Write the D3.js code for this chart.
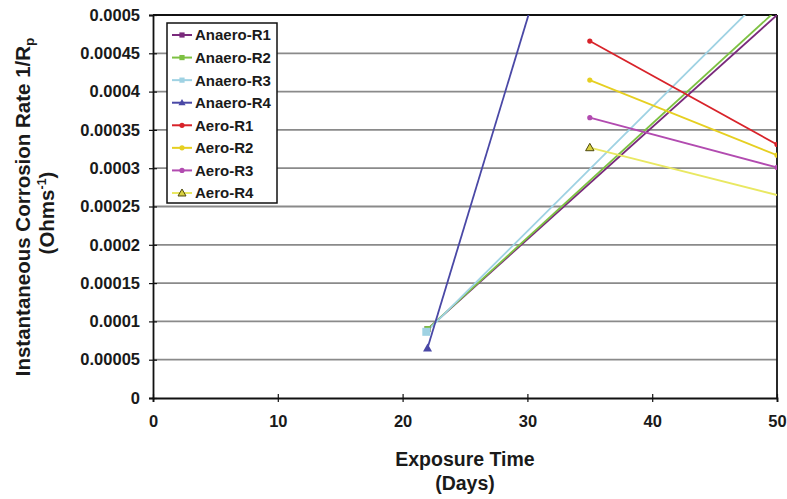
<!DOCTYPE html>
<html><head><meta charset="utf-8">
<script src="https://cdn.jsdelivr.net/npm/d3@7"></script>
<style>body{margin:0;background:#fff}svg{display:block;font-family:"Liberation Sans",Arial,sans-serif}</style>
</head><body><svg id="c" width="787" height="499"></svg>
<script>
const seriesNames = ["Anaero-R1","Anaero-R2","Anaero-R3","Anaero-R4","Aero-R1","Aero-R2","Aero-R3","Aero-R4"];
const seriesColors = ["#7a2a7c","#7dc142","#9fd2e3","#4a48a6","#d8232a","#e6cf21","#b24bb0","#e9e862"];
const seriesMarkers = ["square","square","square","triangle","circle","circle","circle","triangleOutline"];
const anaeroR1 = [[22, 0.00009], [50, 0.0005]];
const anaeroR2 = [[22, 0.00009], [50, 0.000507]];
const anaeroR3 = [[21.9, 0.0000864], [50, 0.000542]];
const anaeroR4 = [[22, 0.0000654], [50, 0.00157]];
const aeroR1 = [[35, 0.000466], [50, 0.000331]];
const aeroR2 = [[35, 0.000415], [50, 0.000317]];
const aeroR3 = [[35, 0.000366], [50, 0.000301]];
const aeroR4 = [[35, 0.000327], [50, 0.000265]];
const seriesData = [anaeroR1, anaeroR2, anaeroR3, anaeroR4, aeroR1, aeroR2, aeroR3, aeroR4];
const xTicks = [0,10,20,30,40,50];
const yTicks = [0,0.00005,0.0001,0.00015,0.0002,0.00025,0.0003,0.00035,0.0004,0.00045,0.0005];
const yTickLabels = ["0","0.00005","0.0001","0.00015","0.0002","0.00025","0.0003","0.00035","0.0004","0.00045","0.0005"];

const L=153, R=777, T=15, B=398;
const svg = d3.select("#c");
const x = d3.scaleLinear().domain([0,50]).range([L,R]);
const y = d3.scaleLinear().domain([0,0.0005]).range([B,T]);

svg.append("defs").append("clipPath").attr("id","clip")
  .append("rect").attr("x",L).attr("y",T).attr("width",R-L).attr("height",B-T);

// gridlines
svg.append("g").selectAll("line").data(yTicks.slice(1,-1)).join("line")
  .attr("x1",L).attr("x2",R).attr("y1",d=>y(d)).attr("y2",d=>y(d))
  .attr("stroke","#8a8a8a").attr("stroke-width",1.8);
// top/right border
svg.append("line").attr("x1",L).attr("x2",R).attr("y1",T).attr("y2",T).attr("stroke","#111").attr("stroke-width",1.8);
svg.append("line").attr("x1",R).attr("x2",R).attr("y1",T).attr("y2",B).attr("stroke","#111").attr("stroke-width",1.8);

// axes
const ya = svg.append("g").attr("transform",`translate(${L},0)`)
  .call(d3.axisLeft(y).tickValues(yTicks).tickFormat((d,i)=>yTickLabels[i]).tickSize(4).tickPadding(9));
const xa = svg.append("g").attr("transform",`translate(0,${B})`)
  .call(d3.axisBottom(x).tickValues(xTicks).tickSize(4).tickPadding(13));
[ya,xa].forEach(a=>{
  a.select(".domain").attr("stroke","#111").attr("stroke-width",1.8);
  a.selectAll(".tick line").attr("stroke","#111").attr("stroke-width",1.2);
  a.selectAll("text").attr("font-size",16.5).attr("font-weight","bold").attr("fill","#1a1a1a")
   .attr("font-family","Liberation Sans, Arial, sans-serif");
});
ya.selectAll(".tick line").attr("x1",4).attr("x2",-4);
xa.selectAll(".tick line").attr("y1",-4).attr("y2",4);

// series
const line = d3.line().x(d=>x(d[0])).y(d=>y(d[1]));
const plot = svg.append("g").attr("clip-path","url(#clip)");
function marker(g, type, color, cx, cy, s){
  if(type==="square") g.append("rect").attr("x",cx-s).attr("y",cy-s).attr("width",2*s).attr("height",2*s).attr("fill",color);
  else if(type==="circle") g.append("circle").attr("cx",cx).attr("cy",cy).attr("r",s).attr("fill",color);
  else if(type==="triangle") g.append("path").attr("d",`M${cx},${cy-s-1}L${cx+s+1},${cy+s}L${cx-s-1},${cy+s}Z`).attr("fill",color);
  else g.append("path").attr("d",`M${cx},${cy-s-1}L${cx+s+1},${cy+s}L${cx-s-1},${cy+s}Z`).attr("fill","#d8d040").attr("stroke","#4f4a10").attr("stroke-width",1);
}
seriesData.forEach((data,i)=>{
  plot.append("path").datum(data).attr("d",line).attr("fill","none")
    .attr("stroke",seriesColors[i]).attr("stroke-width",1.8);
});
const sizes=[3,3,4,3.5,2.6,2.6,2.6,3.2];
seriesData.forEach((data,i)=>{
  data.filter((d,j)=> j===0 || seriesMarkers[i]==="circle")
      .forEach(d=>marker(plot, seriesMarkers[i], seriesColors[i], x(d[0]), y(d[1]), sizes[i]));
});

// legend
const lg = svg.append("g");
lg.append("rect").attr("x",167).attr("y",23).attr("width",110).attr("height",180)
  .attr("fill","#fff").attr("stroke","#111").attr("stroke-width",1.5);
seriesNames.forEach((n,i)=>{
  const yy = 35 + i*22.57;
  lg.append("line").attr("x1",172).attr("x2",192).attr("y1",yy).attr("y2",yy)
    .attr("stroke",seriesColors[i]).attr("stroke-width",2);
  marker(lg, seriesMarkers[i], seriesColors[i], 182, yy, i===7?3:2.6);
  lg.append("text").attr("x",195).attr("y",yy).attr("dy","0.36em").text(n)
    .attr("font-size",15).attr("font-weight","bold").attr("fill","#1a1a1a");
});

// axis titles
const xt = svg.append("text").attr("text-anchor","middle").attr("font-size",19.5).attr("font-weight","bold").attr("fill","#1a1a1a");
xt.append("tspan").attr("x",465).attr("y",466).text("Exposure Time");
xt.append("tspan").attr("x",465).attr("y",490).text("(Days)");

const yt = svg.append("text").attr("text-anchor","middle").attr("font-size",20.5).attr("font-weight","bold").attr("fill","#1a1a1a")
  .attr("transform","translate(30,207) rotate(-90)");
const l1 = yt.append("tspan").attr("x",0).attr("y",0);
l1.append("tspan").text("Instantaneous Corrosion Rate 1/R");
l1.append("tspan").attr("font-size",13.5).attr("dy",4).text("p");
const l2 = yt.append("tspan").attr("x",-6).attr("y",24);
l2.append("tspan").text("(Ohms");
l2.append("tspan").attr("font-size",12.5).attr("dy",-8).text("-1");
l2.append("tspan").attr("dy",8).text(")");
</script></body></html>
